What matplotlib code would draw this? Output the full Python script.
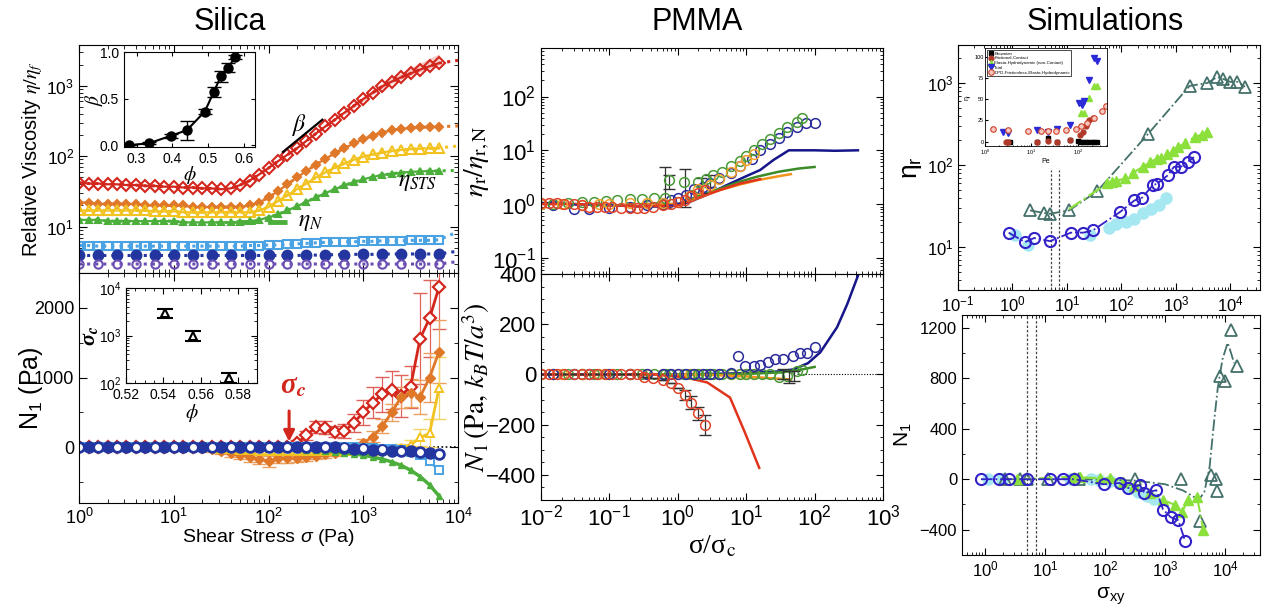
import numpy as np
import matplotlib
matplotlib.use("Agg")
import matplotlib.pyplot as plt
from matplotlib.ticker import MultipleLocator, LogLocator, NullFormatter

plt.rcParams['font.family'] = ['Liberation Sans', 'DejaVu Sans']
plt.rcParams['mathtext.fontset'] = 'custom'
plt.rcParams['mathtext.rm'] = 'Liberation Sans'
plt.rcParams['mathtext.it'] = 'Liberation Sans:italic'
plt.rcParams['mathtext.bf'] = 'Liberation Sans:bold'

# ---------------- Silica: viscosity and N1 vs shear stress ----------------
sigma = [1.0, 1.26, 1.58, 2.0, 2.51, 3.16, 3.98, 5.01, 6.31, 7.94, 10.0, 12.6, 15.8,
         20.0, 25.1, 31.6, 39.8, 50.1, 63.1, 79.4, 100, 126, 158, 200, 251, 316, 398,
         501, 631, 794, 1000, 1259, 1585, 1995, 2512, 3162, 3981, 5012, 6310]

eta_red = [42, 41, 41, 40, 40, 39, 39, 38, 38, 37, 37, 36, 36, 35, 35, 34, 35, 39, 45, 55,
           68, 85, 105, 130, 165, 210, 265, 330, 415, 520, 650, 800, 980, 1150, 1320, 1500,
           1700, 1900, 2100]
eta_orange = [22, 22, 21, 21, 21, 21, 21, 20, 20, 20, 20, 20, 19, 19, 19, 19, 19, 19, 20, 22,
              26, 32, 40, 50, 62, 76, 92, 110, 130, 152, 175, 197, 217, 233, 245, 253, 258,
              261, 262]
eta_yellow = [17, 17, 17, 17, 17, 17, 17, 17, 16.5, 16.5, 16.5, 16, 16, 16, 16, 16, 16, 16,
              16, 17, 19, 23, 28, 34, 41, 50, 59, 69, 79, 89, 98, 106, 113, 119, 123, 126,
              128, 130, 131]
eta_green = [12.5, 12.5, 12.5, 12, 12, 12, 12, 12, 12, 12, 12, 11.5, 11.5, 11.5, 11.5, 11.5,
             11.5, 11.5, 12, 12.5, 13.5, 15, 17, 19.5, 22.5, 26, 30, 34, 38.5, 43, 47, 51, 54,
             56.5, 58.5, 60, 61, 61.5, 62]
eta_ltblue = [5.4, 5.4, 5.3, 5.3, 5.3, 5.3, 5.3, 5.3, 5.3, 5.3, 5.3, 5.3, 5.3, 5.3, 5.3, 5.3,
              5.3, 5.3, 5.4, 5.4, 5.5, 5.5, 5.6, 5.7, 5.8, 5.9, 6.0, 6.0, 6.1, 6.1, 6.2, 6.2,
              6.3, 6.3, 6.3, 6.4, 6.4, 6.4, 6.5]
eta_dkblue = [3.9, 3.9, 3.9, 3.9, 3.9, 3.9, 3.9, 3.9, 3.9, 3.9, 3.9, 3.9, 3.9, 3.9, 3.9, 3.9,
              3.9, 3.9, 3.9, 3.9, 3.9, 3.9, 3.9, 3.9, 3.95, 3.95, 4.0, 4.0, 4.0, 4.05, 4.05,
              4.05, 4.1, 4.1, 4.1, 4.1, 4.1, 4.1, 4.1]
eta_purple = [2.95, 2.95, 2.95, 2.95, 2.95, 2.95, 2.95, 2.95, 2.95, 2.95, 2.95, 2.95, 2.95,
              2.95, 2.95, 2.95, 2.95, 2.95, 2.95, 2.95, 2.95, 2.95, 2.95, 2.95, 2.95, 2.95,
              2.95, 2.95, 2.95, 2.95, 2.95, 2.95, 2.95, 2.95, 2.95, 2.95, 2.95, 2.95, 2.95]
# model curves continue to sigma = 1e4
eta_model_end = [2300, 270, 140, 63, 8.5, 4.5, 3.2]
red_band_lo = [390, 490, 610, 750, 920, 1080, 1240, 1400, 1580, 1770, 1960]
red_band_hi = [440, 560, 710, 890, 1090, 1300, 1530, 1800, 2100, 2450, 2850]

n1_red = [0, 0, 0, 0, 0, 0, 0, 0, 0, 0, 0, 0, 0, 0, 0, 0, 0, 0, 0, 0, 0, 0, 0,
          60, 170, 290, 280, 220, 230, 350, 500, 640, 760, 820, 740, 870, 1560, 1850, 2300]
n1_red_err = [25, 25, 25, 25, 25, 25, 25, 25, 25, 25, 25, 25, 25, 25, 25, 25, 25, 25, 25, 25,
              25, 25, 25, 40, 60, 90, 90, 80, 100, 130, 180, 220, 250, 270, 300, 300, 650,
              550, 600]
n1_orange = [10, 0, 15, 10, 0, 10, 15, 5, 0, 10, 5, 0, -5, -10, -30, -50, -80, -110, -140,
             -170, -200, -160, -150, -150, -140, -120, -100, -80, -50, -10, 60, 150, 300, 500,
             720, 780, 720, 1000, 1370]
n1_orange_err = [20, 20, 20, 20, 20, 20, 20, 20, 20, 20, 20, 20, 20, 30, 40, 50, 60, 60, 70,
                 70, 80, 70, 70, 60, 60, 50, 50, 50, 50, 50, 60, 80, 100, 120, 150, 200, 250,
                 350, 450]
n1_yellow = [0, 0, 0, 0, 0, 0, 0, 0, 0, 0, 0, 0, 0, 0, 0, -20, -30, -40, -45, -50, -55, -55,
             -55, -55, -55, -55, -55, -55, -55, -55, -55, -50, -45, -40, -10, 30, 140, 200,
             850]
n1_yellow_err = [20, 20, 20, 20, 20, 20, 20, 20, 20, 20, 20, 20, 20, 20, 20, 25, 25, 30, 30,
                 30, 30, 30, 30, 30, 30, 30, 30, 30, 30, 30, 40, 40, 40, 50, 60, 80, 120, 200,
                 450]
n1_green = [0, 0, 0, 0, 0, 0, 0, 0, 0, 0, 0, 0, 0, 0, 0, 0, 0, 0, 0, 0, -15, -20, -25, -30,
            -35, -45, -55, -65, -80, -95, -115, -140, -170, -210, -260, -330, -420, -540, -700]
n1_ltblue = [0, 0, 0, 0, 0, 0, 0, 0, 0, 0, 0, 0, 0, 0, 0, 0, 0, 0, 0, 0, 0, 0, 0, 0, 0, 0, 0,
             0, 0, 0, -10, -15, -20, -30, -45, -70, -110, -200, -330]
n1_dkblue = [0, 0, 0, 0, 0, 0, 0, 0, 0, 0, 0, 0, 0, 0, 0, 0, 0, 0, 0, 0, 0, 0, 0, 0, 0, 0, 0,
             0, -10, -20, -30, -40, -45, -50, -55, -60, -70, -80, -90]
n1_purple = [0, 0, 0, 0, 0, 0, 0, 0, 0, 0, 0, 0, 0, 0, 0, 0, 0, 0, 0, 0, 0, 0, 0, 0, 0, 0, 0,
             0, 0, 0, -10, -20, -30, -40, -50, -60, -70, -80, -90]

# insets
phi_beta = [0.28, 0.335, 0.395, 0.44, 0.49, 0.515, 0.535, 0.555, 0.575]
beta = [0.0, 0.02, 0.1, 0.16, 0.36, 0.57, 0.74, 0.83, 0.95]
beta_err = [0.0, 0.01, 0.02, 0.1, 0.03, 0.05, 0.06, 0.05, 0.02]
phi_sc = [0.541, 0.556, 0.575]
sigma_c = [3000, 1000, 130]
sigma_c_err = [700, 250, 30]

# ---------------- PMMA ----------------
pm_blue_line_x = [0.01, 0.03, 0.1, 0.3, 0.8, 1.5, 3, 5, 10, 16, 25, 42, 100, 200, 430]
pm_blue_line_y = [1.05, 1.0, 0.95, 0.9, 0.9, 1.1, 1.6, 2.2, 3.3, 4.3, 6.6, 10, 10, 9.8, 10]
pm_green_line_x = [0.3, 1, 2, 4, 8, 14, 30, 60, 100]
pm_green_line_y = [1.0, 1.0, 1.4, 1.9, 2.6, 3.2, 4.0, 4.6, 4.9]
pm_orange_line_x = [0.3, 1, 2, 4, 8, 15, 30, 45]
pm_orange_line_y = [1.0, 1.0, 1.3, 1.8, 2.3, 2.8, 3.3, 3.6]
pm_red_line_x = [0.01, 0.03, 0.1, 0.3, 1, 2, 4, 8, 16]
pm_red_line_y = [1.0, 1.0, 0.95, 0.9, 0.95, 1.3, 1.8, 2.4, 2.9]

pm_green_x = [0.01, 0.015, 0.025, 0.04, 0.06, 0.09, 0.13, 0.2, 0.3, 0.45, 0.65, 0.75, 1.25,
              1.6, 2.0, 2.6, 3.3, 4.5, 6, 8, 10, 13, 17, 22, 30, 40, 55, 65]
pm_green_y = [1.0, 1.0, 1.05, 1.1, 1.1, 1.15, 1.2, 1.25, 1.25, 1.3, 1.3, 2.8, 2.6, 1.5, 2.6,
              2.9, 3.4, 4.0, 5.0, 6.2, 8, 10, 13, 16, 21, 27, 33, 40]
pm_blue_x = [0.015, 0.03, 0.05, 0.1, 0.2, 0.35, 0.6, 0.8, 1.0, 1.3, 1.7, 2.3, 3, 4, 6, 8, 12,
             16, 22, 30, 40, 55, 75, 100]
pm_blue_y = [0.95, 0.8, 0.8, 0.85, 0.9, 0.95, 1.0, 1.2, 1.3, 1.5, 1.9, 2.1, 2.5, 3.0, 3.8,
             5.0, 7.0, 10, 13, 17, 22, 27, 32, 32]
pm_orange_x = [0.01, 0.02, 0.04, 0.07, 0.1, 0.2, 0.35, 0.6, 1, 1.5, 2, 3, 4, 6, 8, 10, 13]
pm_orange_y = [1.0, 1.0, 0.95, 1.0, 1.0, 1.05, 1.05, 1.05, 1.1, 1.4, 1.9, 2.3, 2.9, 4.0, 5.2,
               6.5, 8.5]
pm_red_x = [0.01, 0.013, 0.017, 0.022, 0.03, 0.04, 0.05, 0.065, 0.085, 0.11, 0.15, 0.2, 0.25,
            0.32, 0.43, 0.6, 0.8, 1.0, 1.26, 1.55, 2.0, 2.5]
pm_red_y = [1.05, 1.05, 1.05, 1.0, 1.0, 0.95, 0.9, 0.9, 0.9, 0.88, 0.85, 0.85, 0.85, 0.85,
            0.9, 0.95, 1.0, 1.1, 1.2, 1.4, 1.6, 1.8]
pm_err_x = [0.64, 0.75, 1.26, 2.2, 3.0]
pm_err_y = [2.8, 2.4, 2.6, 2.2, 2.7]
pm_err_lo = [1.94, 0.5, 1.7, 0.6, 0.6]
pm_err_hi = [2.1, 1.0, 1.8, 0.8, 0.7]

pm_red_n1 = [0, 0, 0, 0, 0, 0, 0, 0, 0, 0, 0, 0, 0, -10, -16, -24, -36, -55, -80, -112,
             -155, -200]
pm_red_n1_err = [0, 0, 0, 0, 0, 0, 0, 0, 0, 0, 0, 0, 0, 0, 0, 0, 0, 0, 20, 25, 25, 40]
pm_blue_n1_x = [0.015, 0.03, 0.05, 0.1, 0.2, 0.35, 0.6, 0.8, 1.0, 1.3, 1.7, 2.3, 3, 4, 6, 7.7,
                9.6, 13, 16, 21, 26, 35, 48, 62, 78, 100]
pm_blue_n1 = [0, 0, 0, 0, 0, 0, 0, 0, 0, 0, 0, 0, 0, 2, 4, 72, 32, 32, 36, 48, 60, 60, 72, 84,
              84, 108]
pm_green_n1 = [0, 0, 0, 2, 2, 2, 2, 2, 2, 2, 2, 2, 2, 2, 2, 2, 2, 2, 2, 2, 2, 2, 2, 2, -10, -5,
               12, 16]
pm_orange_n1 = [0, 0, 0, 0, 0, 0, 0, 0, 0, 0, 0, 0, 0, 0, 0, 0, 0]
pm_red_n1_line_x = [0.01, 0.1, 0.5, 1.3, 2.7, 5.8, 9.6, 15.5]
pm_red_n1_line = [0, 0, 0, -12, -32, -92, -232, -372]
pm_blue_n1_line_x = [0.01, 1, 10, 30, 49, 80, 121, 213, 300, 440]
pm_blue_n1_line = [0, 0, 5, 12, 20, 45, 88, 188, 280, 400]
pm_green_n1_line_x = [0.3, 3, 10, 30, 60, 100]
pm_green_n1_line = [0, 0, 2, 8, 18, 30]
pm_orange_n1_line_x = [0.3, 3, 10, 20, 45]
pm_orange_n1_line = [0, -2, -8, -14, -20]
pm_n1_err_x = [35, 42, 50]
pm_n1_err_y = [0, -10, -5]
pm_n1_err = [20, 25, 20]

# ---------------- Simulations ----------------
sim_teal_x = [2.1, 3.8, 4.9, 11, 36, 310, 1780, 3800, 5700, 7400, 10000, 13500, 18600]
sim_teal_eta = [28, 26, 25.5, 28, 48, 240, 920, 1000, 1180, 1120, 1030, 1030, 900]
sim_green_x = [11, 55, 66, 80, 118, 160, 250, 340, 450, 540, 700, 900, 1100, 1500, 2200,
               3000, 3800]
sim_green_eta = [29, 60, 62, 64, 69, 80, 95, 110, 118, 123, 135, 150, 166, 185, 219, 235, 250]
sim_blue_x = [0.85, 1.7, 2.5, 4.9, 11.8, 20, 30, 96, 173, 240, 380, 450, 710, 920, 1230, 1650,
              2150]
sim_blue_eta = [15, 11.5, 12.9, 11.8, 15, 15, 16, 27, 37, 40, 57, 59, 75, 95, 95, 109, 125]
sim_blue_n1 = [0, 0, 0, 0, 0, 0, 0, -40, -30, -70, -48, -110, -87, -240, -300, -325, -490]
sim_cyan_x = [1.1, 1.9, 26, 58, 80, 120, 170, 250, 350, 500, 650]
sim_cyan_eta = [14, 10.5, 14, 17, 19, 20, 22, 26, 29, 33, 40]
sim_cyan_n1 = [0, 0, 0, 0, -5, -15, -30, -70, -100, -130, -160]
sim_teal_n1_x = [2.1, 3.8, 4.9, 11, 36, 310, 1800, 3800, 5800, 6900, 7200, 8300, 10000,
                 12500, 16000]
sim_teal_n1 = [0, 0, 0, 0, 0, 0, 0, -330, 30, 0, -90, 815, 780, 1180, 895]
sim_teal_fit_x = [2.1, 36, 300, 1000, 2000, 3000, 3800, 4500, 5500, 6500, 7500, 9000, 11000,
                  12500, 14000]
sim_teal_fit = [0, 0, -10, -40, -90, -140, -150, -100, 100, 450, 720, 950, 1080, 1000, 920]
sim_green_n1_x = [3.4, 30, 38, 83, 120, 200, 300, 560, 930, 1480, 1900, 2400, 3400, 4300]
sim_green_n1 = [0, 20, 15, 8, 8, -20, -50, -110, -165, -205, -260, -165, -140, -400]
sim_vlines = [5.0, 7.0]

pe_dpd = [1.5, 3.2, 8.6, 16.5, 23, 34, 57, 91, 117, 160, 230, 340, 400]
eta_dpd = [15, 14, 13, 13, 13, 13, 14, 15, 19, 22, 28, 36, 42]
pe_total = [2.5, 3.2, 13.5, 23, 36, 70, 105, 123, 135, 175, 230, 260]
eta_total = [12, 10, 14, 12, 15, 20, 45, 43, 48, 73, 98, 95]
pe_elasto = [117, 135, 175, 230, 260]
eta_elasto = [34, 34, 51, 65, 65]
pe_brown = [3.2, 3.5, 13.5, 23, 36, 70, 100, 117, 130, 150, 170, 200, 230, 260]
eta_brown = [0, 0, 0, 4, 0, 2, 1, 0, 0, 0, 0, 0, 0, 0]
pe_fric = [2.8, 3.2, 13.5, 23, 36, 70, 110, 130, 150, 175, 210]
eta_fric = [0, 0, 0, 1, 0, 2, 8, 12, 18, 25, 28]

W, H = 1262, 609
fig = plt.figure(figsize=(W / 100, H / 100), dpi=100)


def box(x0, y0, x1, y1):
    return fig.add_axes([x0 / W, 1 - y1 / H, (x1 - x0) / W, (y1 - y0) / H])


def ticks(ax, size, major=6, minor=3):
    ax.tick_params(which='both', direction='in', top=True, right=True, labelsize=size)
    ax.tick_params(which='major', length=major, width=0.8)
    ax.tick_params(which='minor', length=minor, width=0.6)


RED, ORANGE, YELLOW, GREEN = '#d3271e', '#e0782a', '#f2c320', '#4caf3c'
LTBLUE, DKBLUE, PURPLE = '#4ba3e3', '#23359e', '#6b4fb3'

# ---- Silica viscosity ----
ax = box(79, 45, 458, 273)
ax.set_xscale('log')
ax.set_yscale('log')
sig_ext = sigma + [1e4]
ax.fill_between(sigma[28:], red_band_lo, red_band_hi, color='#f0a8a0', alpha=0.6, lw=0)
series = [(eta_red, RED, 'D', 'none', 6.5, '-'),
          (eta_orange, ORANGE, 'D', ORANGE, 4.5, '-'),
          (eta_yellow, YELLOW, '^', 'none', 6.5, '-'),
          (eta_green, GREEN, '^', GREEN, 4, '-'),
          (eta_ltblue, LTBLUE, 's', 'none', 6, None),
          (eta_dkblue, DKBLUE, 'o', DKBLUE, 7, None),
          (eta_purple, PURPLE, 'o', 'none', 6, None)]
for (vals, col, mk, fc, ms, ls), end in zip(series, eta_model_end):
    ax.plot(sig_ext, vals + [end], ls=':', color=col, lw=2.2)
    if ls:
        ax.plot(sigma, vals, ls=ls, color=col, lw=1.6)
    every = 1 if mk in 'D^s' else 2
    ax.plot(sigma, vals, ls='none', marker=mk, ms=ms, mfc=fc, mec=col, mew=1.5,
            markevery=every)
ax.plot([45, 190], [11.8, 11.8], color=GREEN, lw=3.5, dashes=(4, 2.5))
ax.text(205, 11.8, r'$\eta_N$', fontsize=17, va='center', math_fontfamily='stix')
ax.plot([142, 370], [115, 330], color='black', lw=1.6)
ax.text(175, 230, r'$\beta$', fontsize=17, math_fontfamily='stix')
ax.text(2300, 43, r'$\eta_{STS}$', fontsize=17, va='center', math_fontfamily='stix')
ax.set_xlim(1, 1e4)
ax.set_ylim(2.2, 3800)
ax.set_xticklabels([])
ax.xaxis.set_minor_formatter(NullFormatter())
ticks(ax, 12.5)
ax.set_ylabel(r'Relative Viscosity $\eta/\eta_f$', fontsize=14.5, math_fontfamily='stix')
ax.yaxis.set_label_coords(-0.09, 0.5)

# beta inset
ins = box(124, 52, 255, 147)
ins.errorbar(phi_beta, beta, yerr=beta_err, color='black', marker='o', ms=6.5, lw=1.5,
             capsize=5, elinewidth=1)
ins.set_xlim(0.265, 0.63)
ins.set_ylim(-0.02, 1.0)
ins.set_xticks([0.3, 0.4, 0.5, 0.6])
ins.set_yticks([0.0, 0.5, 1.0])
ins.set_yticklabels(['0.0', '0.5', '1.0'])
ins.tick_params(direction='in', labelsize=10, length=3, top=True, right=True)
ins.set_xlabel(r'$\phi$', fontsize=14, labelpad=-1, math_fontfamily='stix')
ins.set_ylabel(r'$\beta$', fontsize=14, labelpad=-4, math_fontfamily='stix')

# ---- Silica N1 ----
ax = box(79, 273, 458, 503)
ax.set_xscale('log')
ax.axhline(0, color='black', ls=(0, (1, 1.5)), lw=1.2, zorder=1)
ax.errorbar(sigma, n1_red, yerr=n1_red_err, fmt='none', ecolor='#e0615a', elinewidth=0.9,
            capsize=5)
ax.errorbar(sigma, n1_orange, yerr=n1_orange_err, fmt='none', ecolor='#eca060',
            elinewidth=0.9, capsize=5)
ax.errorbar(sigma, n1_yellow, yerr=n1_yellow_err, fmt='none', ecolor='#f5d560',
            elinewidth=0.9, capsize=5)
ax.plot(sigma, n1_red, color=RED, lw=2, marker='D', ms=6, mfc='white', mec=RED, mew=1.6)
ax.plot(sigma, n1_orange, color=ORANGE, lw=2, marker='D', ms=5, mfc=ORANGE, mec=ORANGE)
ax.plot(sigma, n1_yellow, color=YELLOW, lw=2, marker='^', ms=6, mfc='white', mec=YELLOW,
        mew=1.4)
ax.plot(sigma, n1_green, color=GREEN, lw=2.5, marker='^', ms=4, mfc=GREEN, mec=GREEN)
ax.plot(sigma, n1_ltblue, color=LTBLUE, lw=2, marker='s', ms=6, mfc='white', mec=LTBLUE,
        mew=1.4)
ax.plot(sigma, n1_dkblue, color=DKBLUE, lw=4, marker='o', ms=8, mfc=DKBLUE, mec=DKBLUE)
ax.plot(sigma, n1_purple, ls='none', marker='o', ms=6, mfc='white', mec=DKBLUE, mew=1,
        markevery=2)
ax.annotate('', xy=(165, 40), xytext=(165, 560),
            arrowprops=dict(arrowstyle='-|>', color=RED, lw=2.2, mutation_scale=16))
ax.text(180, 780, r'σ$_\boldsymbol{c}$', color=RED, fontsize=21, ha='center',
        family='Liberation Serif', style='italic', weight='bold', math_fontfamily='stix')
ax.set_xlim(1, 1e4)
ax.set_ylim(-800, 2500)
ax.yaxis.set_major_locator(MultipleLocator(1000))
ax.yaxis.set_minor_locator(MultipleLocator(500))
ax.xaxis.set_minor_formatter(NullFormatter())
ticks(ax, 13)
ax.set_xlabel(r'Shear Stress $\sigma$ (Pa)', fontsize=14, labelpad=-1)
ax.set_ylabel(r'N$_\mathregular{1}$ (Pa)', fontsize=18)
ax.yaxis.set_label_coords(-0.09, 0.5)

# sigma_c inset
ins = box(126, 288, 257, 383)
ins.set_yscale('log')
ins.errorbar(phi_sc, sigma_c, yerr=sigma_c_err, fmt='^', ms=6, mfc='white', mec='black',
             mew=1.5, ecolor='black', capsize=6, elinewidth=1)
ins.set_xlim(0.52, 0.59)
ins.set_ylim(100, 1e4)
ins.set_xticks([0.52, 0.54, 0.56, 0.58])
ins.xaxis.set_minor_locator(MultipleLocator(0.005))
ins.tick_params(which='both', direction='in', labelsize=10, top=True, right=True)
ins.tick_params(which='major', length=4)
ins.tick_params(which='minor', length=2)
ins.yaxis.set_minor_formatter(NullFormatter())
ins.set_xlabel(r'$\phi$', fontsize=14, labelpad=0, math_fontfamily='stix')
ins.set_ylabel(r'σ$_\boldsymbol{c}$', fontsize=16, labelpad=-1, family='Liberation Serif',
               style='italic', weight='bold', math_fontfamily='stix')

fig.text(230 / W, 1 - 22 / H, 'Silica', fontsize=22, ha='center', va='center')

# ---- PMMA viscosity ----
PM_NAVY, PM_GREEN, PM_ORANGE, PM_RED = '#16168a', '#3c8b28', '#f0941c', '#e0351c'
ax = box(541, 48, 883, 274)
ax.set_xscale('log')
ax.set_yscale('log')
ax.plot(pm_blue_line_x, pm_blue_line_y, color=PM_NAVY, lw=1.8)
ax.plot(pm_green_line_x, pm_green_line_y, color=PM_GREEN, lw=1.8)
ax.plot(pm_orange_line_x, pm_orange_line_y, color=PM_ORANGE, lw=1.8)
ax.plot(pm_red_line_x, pm_red_line_y, color=PM_RED, lw=1.8)
ax.errorbar(pm_err_x, pm_err_y, yerr=[pm_err_lo, pm_err_hi], fmt='none', ecolor='#333333',
            elinewidth=0.9, capsize=4)
for xs, ys, col in [(pm_blue_x, pm_blue_y, '#2b2b9c'), (pm_green_x, pm_green_y, '#4a9a38'),
                    (pm_orange_x, pm_orange_y, '#f2a22e'), (pm_red_x, pm_red_y, '#e0442a')]:
    ax.plot(xs, ys, ls='none', marker='o', ms=7, mfc='none', mec=col, mew=1.1)
ax.set_xlim(0.01, 1000)
ax.set_ylim(0.05, 800)
ax.set_xticklabels([])
ax.xaxis.set_minor_formatter(NullFormatter())
ax.yaxis.set_minor_formatter(NullFormatter())
ax.set_yticks([0.1, 1, 10, 100])
ticks(ax, 16, major=5, minor=2.5)
ax.set_ylabel(r'$\eta_\mathrm{r}/\eta_\mathrm{r,N}$', fontsize=20, math_fontfamily='stix',
              labelpad=0)

# ---- PMMA N1 ----
ax = box(541, 274, 883, 500)
ax.set_xscale('log')
ax.plot([55, 1000], [0, 0], color='black', ls=(0, (1, 1.5)), lw=0.8)
ax.plot(pm_blue_n1_line_x, pm_blue_n1_line, color=PM_NAVY, lw=1.8)
ax.plot(pm_green_n1_line_x, pm_green_n1_line, color=PM_GREEN, lw=1.8)
ax.plot(pm_orange_n1_line_x, pm_orange_n1_line, color=PM_ORANGE, lw=1.8)
ax.plot(pm_red_n1_line_x, pm_red_n1_line, color=PM_RED, lw=1.8)
ax.plot(pm_orange_x, pm_orange_n1, ls='none', marker='o', ms=7, mfc='none', mec='#f2a22e',
        mew=1.1)
ax.plot(pm_green_x, pm_green_n1, ls='none', marker='o', ms=7, mfc='none', mec='#4a9a38',
        mew=1.1)
ax.plot(pm_blue_n1_x, pm_blue_n1, ls='none', marker='o', ms=7, mfc='none', mec='#2b2b9c',
        mew=1.1)
ax.errorbar(pm_red_x, pm_red_n1, yerr=pm_red_n1_err, fmt='none', ecolor='#333333',
            elinewidth=0.9, capsize=4)
ax.errorbar(pm_n1_err_x, pm_n1_err_y, yerr=pm_n1_err, fmt='none', ecolor='#333333',
            elinewidth=0.9, capsize=4)
ax.plot(pm_red_x, pm_red_n1, ls='none', marker='o', ms=7, mfc='none', mec='#e0442a',
        mew=1.1)
ax.set_xlim(0.01, 1000)
ax.set_ylim(-500, 400)
ax.set_yticks([-400, -200, 0, 200, 400])
ax.yaxis.set_minor_locator(MultipleLocator(50))
ax.xaxis.set_minor_formatter(NullFormatter())
ticks(ax, 16, major=5, minor=2.5)
ax.set_ylabel(r'$N_1\,(\mathrm{Pa},\,k_BT/a^3)$', fontsize=20, math_fontfamily='stix',
              labelpad=-4)
ax.set_xlabel(r'σ/σ$_\mathrm{c}$', fontsize=20, family='Liberation Serif',
              math_fontfamily='stix', labelpad=2)

fig.text(697 / W, 1 - 22 / H, 'PMMA', fontsize=22, ha='center', va='center')

# ---- Simulations: viscosity ----
TEAL, LGREEN, SBLUE, CYAN = '#45716b', '#8be03c', '#3322c8', '#a6e8f2'
ax = box(958, 45, 1260, 290)
ax.set_xscale('log')
ax.set_yscale('log')
for xv in sim_vlines:
    ax.axvline(xv, ymin=0, ymax=0.49, color='#444444', ls=(0, (2, 1.5)), lw=0.9)
ax.plot(sim_cyan_x, sim_cyan_eta, ls='none', marker='o', ms=8, color=CYAN)
ax.plot(sim_teal_x, sim_teal_eta, color=TEAL, ls='-.', lw=1.3, marker='^', ms=9,
        mfc='none', mec=TEAL, mew=1.3)
ax.plot(sim_green_x, sim_green_eta, color=LGREEN, ls='-.', lw=1.6, marker='^', ms=7,
        mfc=LGREEN, mec=LGREEN, markevery=list(range(1, len(sim_green_x))))
ax.plot(sim_blue_x, sim_blue_eta, color=SBLUE, ls='-.', lw=1.3, marker='o', ms=8,
        mfc='none', mec=SBLUE, mew=1.5)
ax.set_xlim(0.1, 35000)
ax.set_ylim(3, 2900)
ax.xaxis.set_major_locator(LogLocator(numticks=10))
ax.xaxis.set_minor_formatter(NullFormatter())
ax.yaxis.set_minor_formatter(NullFormatter())
ticks(ax, 12, major=5, minor=2.5)
ax.set_ylabel('η$_\\mathregular{r}$', fontsize=19, labelpad=2)

# inset with the stress contributions
ins = box(985, 48, 1107, 146)
ins.set_xscale('log')
ins.plot(pe_brown, eta_brown, ls='none', marker='s', ms=3.5, color='black',
         label='Brownian')
ins.plot(pe_fric, eta_fric, ls='none', marker='o', ms=3.5, color='#b03a2a',
         label='Frictional-Contact')
ins.plot(pe_elasto, eta_elasto, ls='none', marker='^', ms=4, color=LGREEN,
         label='Elasto-Hydrodynamic (non-Contact)')
ins.plot(pe_total, eta_total, ls='none', marker='v', ms=4, color='#2a2ad8', label='Total')
ins.plot(pe_dpd, eta_dpd, ls='none', marker='o', ms=4, mfc='#f3c9c2', mec='#d0402a',
         mew=0.8, label='DPD-Frictionless-Elasto-Hydrodynamic')
ins.set_xlim(1, 430)
ins.set_ylim(-5, 110)
ins.set_yticks([0, 25, 50, 75, 100])
ins.tick_params(which='both', direction='in', labelsize=4, length=2, pad=1)
ins.tick_params(which='minor', length=1)
ins.xaxis.set_minor_formatter(NullFormatter())
ins.set_xlabel('Pe', fontsize=5, labelpad=1)
ins.set_ylabel('η$_\\mathregular{r}$', fontsize=5, labelpad=1)
for s in ins.spines.values():
    s.set_linewidth(0.6)
ins.legend(loc='upper left', fontsize=3.2, handletextpad=0.3, borderpad=0.3,
           labelspacing=0.15, handlelength=1, frameon=True, fancybox=False,
           edgecolor='black', framealpha=1).get_frame().set_linewidth(0.5)

# ---- Simulations: N1 ----
ax = box(962, 315, 1260, 555)
ax.set_xscale('log')
for xv in sim_vlines:
    ax.axvline(xv, color='#444444', ls=(0, (2, 1.5)), lw=0.9)
ax.plot(sim_cyan_x, sim_cyan_n1, ls='none', marker='o', ms=8, color=CYAN)
ax.plot(sim_teal_fit_x, sim_teal_fit, color=TEAL, ls='-.', lw=1.3)
ax.plot(sim_teal_n1_x, sim_teal_n1, ls='none', marker='^', ms=9, mfc='none', mec=TEAL,
        mew=1.3)
ax.plot(sim_green_n1_x, sim_green_n1, color=LGREEN, ls='-.', lw=1.5, marker='^', ms=7,
        mfc=LGREEN, mec=LGREEN)
ax.plot(sim_blue_x, sim_blue_n1, color=SBLUE, ls='-.', lw=1.3, marker='o', ms=8,
        mfc='none', mec=SBLUE, mew=1.5)
ax.set_xlim(0.41, 38000)
ax.set_ylim(-600, 1300)
ax.set_yticks([-400, 0, 400, 800, 1200])
ax.yaxis.set_minor_locator(MultipleLocator(200))
ax.xaxis.set_major_locator(LogLocator(numticks=10))
ax.xaxis.set_minor_formatter(NullFormatter())
ticks(ax, 12, major=5, minor=2.5)
ax.set_ylabel('N$_\\mathregular{1}$', fontsize=15, labelpad=4)
ax.set_xlabel('σ$_\\mathregular{xy}$', fontsize=15, labelpad=4)

fig.text(1105 / W, 1 - 22 / H, 'Simulations', fontsize=22, ha='center', va='center')

fig.savefig('out.png', dpi=100)
